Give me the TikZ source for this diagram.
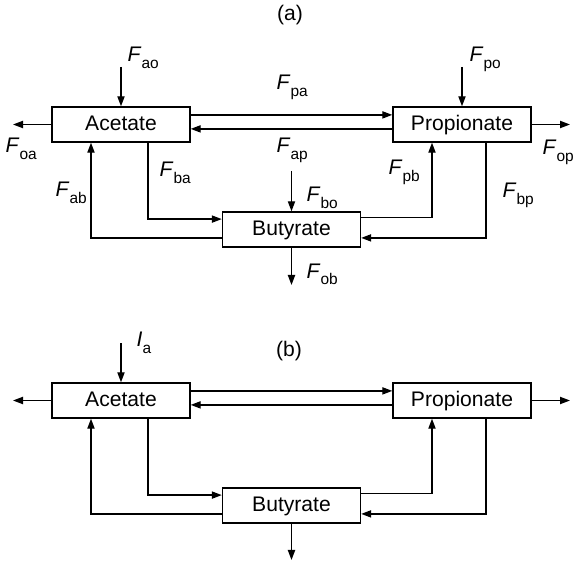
\documentclass[tikz,border=0pt]{standalone}
\usepackage{fontspec}
\setmainfont{Liberation Sans}
\usetikzlibrary{arrows.meta}

\newcommand{\flux}[2]{\textit{#1}\raisebox{-4.5pt}{\fontsize{11}{12}\selectfont #2}}

\begin{document}
\begin{tikzpicture}[x=0.025cm, y=-0.025cm, line width=1pt,
  font=\fontsize{15}{18}\selectfont,
  pool/.style={draw, rectangle, minimum width=3.45cm, minimum height=0.875cm,
    inner sep=0pt, text height=1em, text depth=0.16em},
  flow/.style={-{Triangle[length=2.5mm,width=1.8mm]}},
  lbl/.style={inner sep=0pt, anchor=base west}]

\useasboundingbox (0,0) rectangle (573,564);

% (a) fluxes between the three pools
\node (tita) at (290,15) {(a)};

\node[pool] (acea) at (121,124.5) {Acetate};
\node[pool] (proa) at (462,124.5) {Propionate};
\node[pool] (butya) at (291.5,229.5) {Butyrate};

\coordinate (aoa) at (121,67);
\coordinate (poa) at (462,67);
\coordinate (oaa) at (13,124.5);
\coordinate (opa) at (570,124.5);
\coordinate (boa) at (291.5,171);
\coordinate (oba) at (291.5,285);

\draw[flow] (aoa) -- (acea);
\draw[flow] (poa) -- (proa);
\draw[flow] (acea) -- (oaa);
\draw[flow] (proa) -- (opa);
\draw[flow] ([yshift=2.4mm]acea.east) -- ([yshift=2.4mm]proa.west);
\draw[flow] ([yshift=-1.1mm]proa.west) -- ([yshift=-1.1mm]acea.east);
\draw[flow] ([xshift=6.7mm]acea.south) |- ([yshift=2.6mm]butya.west);
\draw[flow] ([yshift=-2.1mm]butya.west) -| ([xshift=-7.5mm]acea.south);
\draw[flow] ([yshift=3mm]butya.east) -| ([xshift=-7.5mm]proa.south);
\draw[flow] ([xshift=6mm]proa.south) |- ([yshift=-2.1mm]butya.east);
\draw[flow] (boa) -- (butya);
\draw[flow] (butya) -- (oba);

\node[lbl] (lao) at (127,62) {\flux{F}{ao}};
\node[lbl] (lpo) at (469,62) {\flux{F}{po}};
\node[lbl] (lpa) at (276,90) {\flux{F}{pa}};
\node[lbl] (lap) at (276,153) {\flux{F}{ap}};
\node[lbl] (lbo) at (306,202) {\flux{F}{bo}};
\node[lbl] (lob) at (306,278) {\flux{F}{ob}};
\node[lbl] (loa) at (5,153) {\flux{F}{oa}};
\node[lbl] (lop) at (542,155) {\flux{F}{op}};
\node[lbl] (lba) at (159,177) {\flux{F}{ba}};
\node[lbl] (lab) at (55,197) {\flux{F}{ab}};
\node[lbl] (lpb) at (388,175) {\flux{F}{pb}};
\node[lbl] (lbp) at (502,198) {\flux{F}{bp}};

% (b) same pools, acetate infused
\node (titb) at (289,351) {(b)};

\node[pool] (aceb) at (121,400.5) {Acetate};
\node[pool] (prob) at (462,400.5) {Propionate};
\node[pool] (butyb) at (291.5,505.5) {Butyrate};

\coordinate (iab) at (121,343);
\coordinate (oab) at (13,400.5);
\coordinate (opb) at (570,400.5);
\coordinate (obb) at (291.5,560);

\draw[flow] (iab) -- (aceb);
\draw[flow] (aceb) -- (oab);
\draw[flow] (prob) -- (opb);
\draw[flow] ([yshift=2.4mm]aceb.east) -- ([yshift=2.4mm]prob.west);
\draw[flow] ([yshift=-1.1mm]prob.west) -- ([yshift=-1.1mm]aceb.east);
\draw[flow] ([xshift=6.7mm]aceb.south) |- ([yshift=2.6mm]butyb.west);
\draw[flow] ([yshift=-2.1mm]butyb.west) -| ([xshift=-7.5mm]aceb.south);
\draw[flow] ([yshift=3mm]butyb.east) -| ([xshift=-7.5mm]prob.south);
\draw[flow] ([xshift=6mm]prob.south) |- ([yshift=-2.1mm]butyb.east);
\draw[flow] (butyb) -- (obb);

\node[lbl] (lia) at (136,347) {\flux{I}{a}};

\end{tikzpicture}
\end{document}
